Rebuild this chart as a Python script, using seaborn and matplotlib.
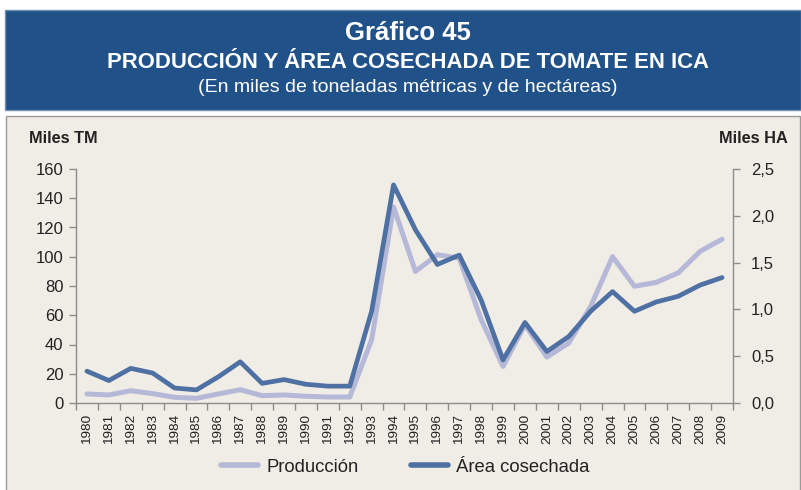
import numpy as np
import pandas as pd
import matplotlib
matplotlib.use("Agg")
import matplotlib.pyplot as plt
import seaborn as sns
from matplotlib.patches import Rectangle
from matplotlib.ticker import FuncFormatter, FixedLocator
from matplotlib.lines import Line2D

years = [str(y) for y in range(1980, 2010)]
produccion = [6.2, 5.5, 8.4, 6.4, 3.9, 3.2, 6.2, 9.1, 5.0, 5.5, 4.6, 4.1, 4.1, 43.3, 134.0,
              90.0, 101.4, 99.0, 57.0, 25.0, 53.6, 31.4, 41.0, 66.0, 100.0, 79.8, 82.5, 89.0, 103.7, 112.0]
area = [0.34, 0.24, 0.37, 0.32, 0.16, 0.14, 0.28, 0.44, 0.21, 0.25, 0.20, 0.18, 0.18, 0.98, 2.33,
        1.85, 1.48, 1.58, 1.10, 0.46, 0.86, 0.55, 0.71, 0.98, 1.19, 0.98, 1.08, 1.14, 1.26, 1.34]
left_ticks = [0, 20, 40, 60, 80, 100, 120, 140, 160]
right_ticks = [0.0, 0.5, 1.0, 1.5, 2.0, 2.5]

sns.set_style("white")
plt.rcParams['font.family'] = ['Liberation Sans', 'DejaVu Sans']

C_LIGHT = "#B5B8D6"
C_DARK = "#4E70A2"
C_HEAD = "#205189"
C_BG = "#F0EDE6"
C_SPINE = "#8C8C8C"
C_TXT = "#222222"

W, H = 801, 490
fig = plt.figure(figsize=(W / 100, H / 100), dpi=100)
fig.patch.set_facecolor("white")

# header box
fig.patches.append(Rectangle((5 / W, 1 - 110 / H), 796 / W, 100 / H, transform=fig.transFigure,
                             facecolor=C_HEAD, edgecolor="#6F8FB5", lw=1.0, zorder=-10))
# chart panel
fig.patches.append(Rectangle((6 / W, -0.01), 794 / W, 1 - 116 / H + 0.01, transform=fig.transFigure,
                             facecolor=C_BG, edgecolor="#9A9A9A", lw=1.0, zorder=-10))

fig.text(0.509, 1 - 33 / H, "Gráfico 45", ha="center", va="center", color="white",
         fontsize=18.5, fontweight="bold")
fig.text(0.509, 1 - 62 / H, "PRODUCCIÓN Y ÁREA COSECHADA DE TOMATE EN ICA", ha="center", va="center",
         color="white", fontsize=15.9, fontweight="bold")
fig.text(0.509, 1 - 88 / H, "(En miles de toneladas métricas y de hectáreas)", ha="center", va="center",
         color="white", fontsize=14)

ax = fig.add_axes([76 / W, 1 - 403 / H, (733 - 76) / W, (403 - 169) / H])
ax.set_facecolor("none")
ax2 = ax.twinx()

df = pd.DataFrame({"x": np.arange(len(years)), "prod": produccion, "area": area})
sns.lineplot(data=df, x="x", y="prod", ax=ax, color=C_LIGHT, lw=3.6, legend=False)
sns.lineplot(data=df, x="x", y="area", ax=ax2, color=C_DARK, lw=3.4, legend=False)

ax.set_xlim(-0.5, len(years) - 0.5)
ax.set_ylim(0, 160)
ax2.set_ylim(0, 2.5)
ax.set_xlabel("")
ax.set_ylabel("")
ax2.set_ylabel("")

ax.set_yticks(left_ticks)
ax.set_yticklabels([str(t) for t in left_ticks])
ax2.set_yticks(right_ticks)
ax2.yaxis.set_major_formatter(FuncFormatter(lambda v, p: f"{v:.1f}".replace(".", ",")))

ax.set_xticks(np.arange(len(years)))
ax.set_xticklabels(years, rotation=90)
ax.xaxis.set_minor_locator(FixedLocator(np.arange(-0.5, len(years), 1.0)))

for a in (ax, ax2):
    for s in a.spines.values():
        s.set_visible(False)
ax.spines["left"].set_visible(True)
ax.spines["bottom"].set_visible(True)
ax2.spines["right"].set_visible(True)
for s in (ax.spines["left"], ax.spines["bottom"], ax2.spines["right"]):
    s.set_color(C_SPINE)
    s.set_linewidth(1.0)

ax.tick_params(axis="y", which="major", direction="out", length=5, width=1, color=C_SPINE,
               labelsize=12, labelcolor=C_TXT, pad=4, left=True)
ax2.tick_params(axis="y", which="major", direction="out", length=5, width=1, color=C_SPINE,
                labelsize=12, labelcolor=C_TXT, pad=8, right=True)
ax.tick_params(axis="x", which="major", length=0, labelsize=9.7, labelcolor=C_TXT, pad=8, bottom=True)
ax.tick_params(axis="x", which="minor", direction="out", length=5, width=1, color=C_SPINE, bottom=True)

fig.text(29 / W, 1 - 138 / H, "Miles TM", ha="left", va="center", fontsize=11.8,
         fontweight="bold", color=C_TXT)
fig.text(788 / W, 1 - 138 / H, "Miles HA", ha="right", va="center", fontsize=11.8,
         fontweight="bold", color=C_TXT)

handles = [Line2D([], [], color=C_LIGHT, lw=4.0), Line2D([], [], color=C_DARK, lw=4.0)]
fig.legend(handles, ["Producción", "Área cosechada"], loc="center", bbox_to_anchor=(0.506, 1 - 467 / H),
           ncol=2, frameon=False, fontsize=13.3, handlelength=2.0, handletextpad=0.45,
           columnspacing=2.8, labelcolor=C_TXT)

fig.savefig("out.png", dpi=100, facecolor=fig.get_facecolor())
